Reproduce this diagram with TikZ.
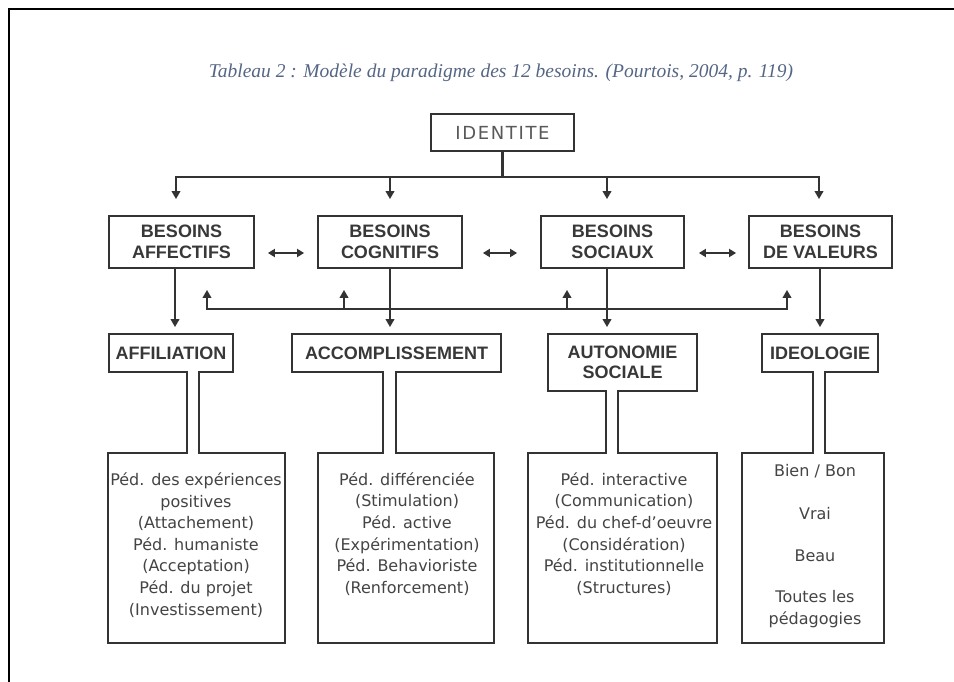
\documentclass[tikz,border=0pt]{standalone}
\usepackage{fontspec}
\setmainfont{Liberation Serif}
\newfontfamily\lblfont{Liberation Sans}
\newfontfamily\txtfont{DejaVu Sans}
\newfontfamily\idfont[LetterSpace=9]{DejaVu Sans}
\usetikzlibrary{arrows.meta,calc}
\definecolor{ln}{HTML}{333333}
\definecolor{lbl}{HTML}{383838}
\definecolor{txt}{HTML}{444444}
\definecolor{ttl}{HTML}{556685}
\tikzset{
  lbox/.style={draw=ln,line width=1.8pt,inner sep=0pt,align=center,text=lbl,
    font=\lblfont\bfseries\fontsize{18}{20.5}\selectfont},
  tlab/.style={lbox,draw=none},
  btxt/.style={inner sep=0pt,align=center,text=txt,font=\txtfont\fontsize{16}{21.6}\selectfont},
  outl/.style={draw=ln,line width=1.8pt,line join=miter},
  conn/.style={ln,line width=2.2pt},
  arr/.style={ln,line width=2.2pt,-{Triangle[length=8pt,width=8.5pt]}},
  dbl/.style={ln,line width=2.2pt,{Triangle[length=7pt,width=8pt]}-{Triangle[length=7pt,width=8pt]}}
}
\begin{document}
\begin{tikzpicture}[x=1pt,y=-1pt]
\useasboundingbox (0,0) rectangle (954,682);
\fill[white] (0,0) rectangle (954,682);
% frame
\draw[line width=2.2pt,black] (9,682) -- (9,9) -- (954,9);
% title
\node[text=ttl,font=\itshape\fontsize{19.5}{22}\selectfont] (title) at (501,73)
  {Tableau 2 : Modèle du paradigme des 12 besoins. (Pourtois, 2004, p. 119)};
% identite
\node[draw=ln,line width=1.8pt,minimum width=143pt,minimum height=37pt,inner sep=0pt,
  text=black!65,font=\idfont\fontsize{18}{20}\selectfont] (id) at (502.5,132.5) {IDENTITE};
% second row
\node[lbox,minimum width=145pt,minimum height=52pt] (aff) at (181.5,242) {BESOINS\\AFFECTIFS};
\node[lbox,minimum width=144pt,minimum height=52pt] (cog) at (390,242) {BESOINS\\COGNITIFS};
\node[lbox,minimum width=143pt,minimum height=52pt] (soc) at (612.5,242) {BESOINS\\SOCIAUX};
\node[lbox,minimum width=143pt,minimum height=52pt] (val) at (820.5,242) {BESOINS\\DE VALEURS};
% third row labels (outlines drawn below)
\node[tlab,minimum width=124pt,minimum height=38pt] (affil) at (171,353) {AFFILIATION};
\node[tlab,minimum width=209pt,minimum height=38pt] (acc) at (396.5,353) {ACCOMPLISSEMENT};
\node[tlab,minimum width=149pt,minimum height=57pt] (auto) at (622.5,362.5) {AUTONOMIE\\SOCIALE};
\node[tlab,minimum width=116pt,minimum height=38pt] (ideo) at (820,353) {IDEOLOGIE};
% T-shaped outlines
\draw[outl] (187,372) -- (187,453) -- (108,453) -- (108,643) -- (285,643) -- (285,453) -- (199,453)
  -- (199,372) -- (233,372) -- (233,334) -- (109,334) -- (109,372) -- cycle;
\draw[outl] (383,372) -- (383,453) -- (318,453) -- (318,643) -- (494,643) -- (494,453) -- (396,453)
  -- (396,372) -- (501,372) -- (501,334) -- (292,334) -- (292,372) -- cycle;
\draw[outl] (606,391) -- (606,453) -- (528,453) -- (528,643) -- (717,643) -- (717,453) -- (618,453)
  -- (618,391) -- (697,391) -- (697,334) -- (548,334) -- (548,391) -- cycle;
\draw[outl] (813,372) -- (813,453) -- (742,453) -- (742,643) -- (884,643) -- (884,453) -- (825,453)
  -- (825,372) -- (878,372) -- (878,334) -- (762,334) -- (762,372) -- cycle;
% bottom texts
\node[btxt] (affilt) at (196,545) {Péd. des expériences\\positives\\(Attachement)\\Péd. humaniste\\(Acceptation)\\Péd. du projet\\(Investissement)};
\node[btxt] (acct) at (407,534) {Péd. différenciée\\(Stimulation)\\Péd. active\\(Expérimentation)\\Péd. Behavioriste\\(Renforcement)};
\node[btxt] (autot) at (624,534) {Péd. interactive\\(Communication)\\Péd. du chef-d’oeuvre\\(Considération)\\Péd. institutionnelle\\(Structures)};
\node[btxt] (ideot) at (815,546) {Bien / Bon\\[21pt]Vrai\\[21pt]Beau\\[19pt]Toutes les\\pédagogies};
% top distribution
\coordinate (hL) at (176,177);
\coordinate (h2) at (390,177);
\coordinate (h3) at (607,177);
\coordinate (hR) at (819,177);
\draw[conn,line cap=rect] (hL) -- (hR);
\draw[conn] (id.south) -- (id.south |- hL);
\draw[arr,shorten >=16pt] (hL) -- (hL |- aff.north);
\draw[arr,shorten >=16pt] (h2) -- (h2 |- cog.north);
\draw[arr,shorten >=16pt] (h3) -- (h3 |- soc.north);
\draw[arr,shorten >=16pt] (hR) -- (hR |- val.north);
% double arrows
\draw[dbl] ($(aff.east)+(13,11)$) -- ($(cog.west)+(-13,11)$);
\draw[dbl] ($(cog.east)+(20,11)$) -- ($(soc.west)+(-23,11)$);
\draw[dbl] ($(soc.east)+(14,11)$) -- ($(val.west)+(-12,11)$);
% down arrows to third row
\coordinate (d1) at (175,268);
\coordinate (d2) at (390,268);
\coordinate (d3) at (607,268);
\coordinate (d4) at (820,268);
\draw[arr,shorten >=6pt] (d1) -- (d1 |- affil.north);
\draw[arr,shorten >=6pt] (d2) -- (d2 |- acc.north);
\draw[arr,shorten >=6pt] (d3) -- (d3 |- auto.north);
\draw[arr,shorten >=6pt] (d4) -- (d4 |- ideo.north);
% feedback line
\coordinate (fL) at (207,309);
\coordinate (f2) at (344,309);
\coordinate (f3) at (567,309);
\coordinate (fR) at (787,309);
\draw[conn,line cap=rect] (fL) -- (fR);
\draw[arr,shorten >=21pt] (fL) -- (fL |- aff.south);
\draw[arr,shorten >=21pt] (f2) -- (f2 |- cog.south);
\draw[arr,shorten >=21pt] (f3) -- (f3 |- soc.south);
\draw[arr,shorten >=21pt] (fR) -- (fR |- val.south);
\end{tikzpicture}
\end{document}
